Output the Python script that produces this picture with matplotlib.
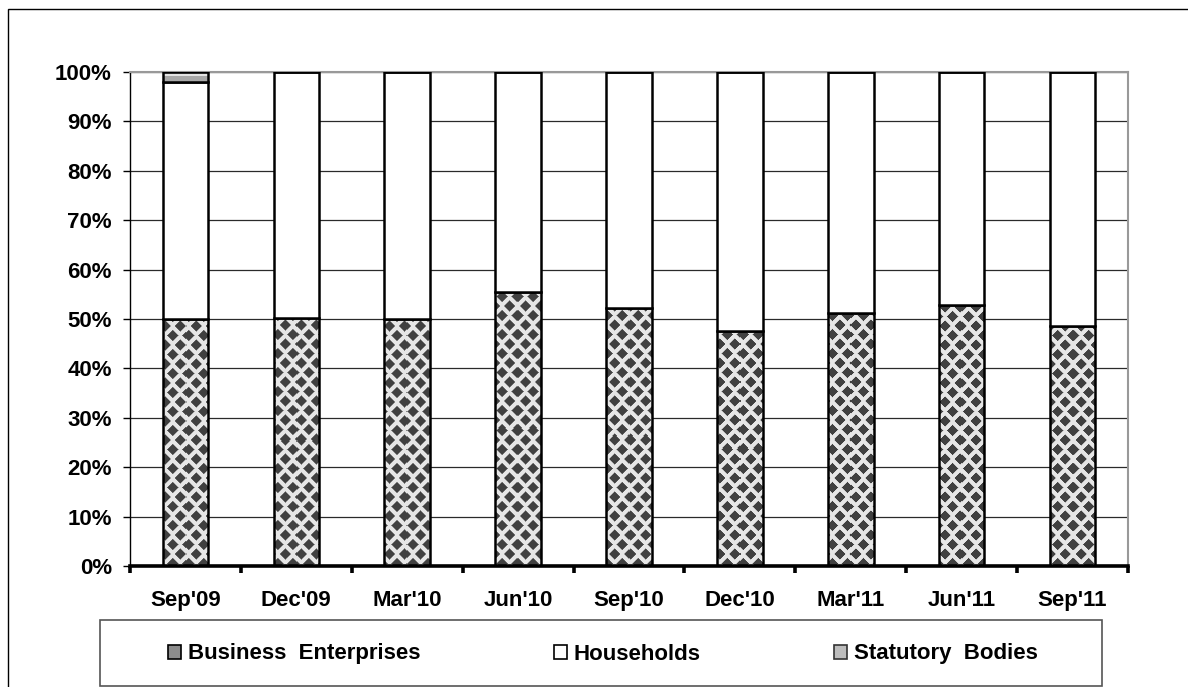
import numpy as np
import matplotlib
matplotlib.use("Agg")
import matplotlib.pyplot as plt
from matplotlib.patches import Rectangle, Patch
from matplotlib.ticker import FuncFormatter, MultipleLocator

plt.rcParams['font.family'] = ['Liberation Sans', 'DejaVu Sans']
plt.rcParams['font.weight'] = 'bold'

quarters = ["Sep'09", "Dec'09", "Mar'10", "Jun'10", "Sep'10",
            "Dec'10", "Mar'11", "Jun'11", "Sep'11"]
business = [50.0, 50.3, 49.9, 55.5, 52.3, 47.6, 51.3, 52.8, 48.5]
statutory = [2.0, 0.0, 0.0, 0.0, 0.0, 0.0, 0.0, 0.0, 0.0]
households = [100 - b - s for b, s in zip(business, statutory)]

W, H = 1188, 687
fig = plt.figure(figsize=(W / 100, H / 100), dpi=100)
ax = fig.add_axes([130 / W, 1 - 566 / H, 998 / W, 494 / H])

x = np.arange(len(quarters))
bw = 0.41
ax.set_xlim(-0.5, len(quarters) - 0.5)
ax.set_ylim(0, 100)


def diamonds(px0, py0, w, h, dx=15, dy=19, half=5.6):
    # dark diamonds on light grey, staggered rows, in screen pixels
    xx = px0 + np.arange(w) + 0.5
    yy = py0 + np.arange(h) + 0.5
    X, Y = np.meshgrid(xx, yy)
    lx = X % dx
    ly = Y % dy
    d_mid = np.abs(lx - dx / 2) + np.abs(ly - dy / 2)
    d_cor = np.minimum(lx, dx - lx) + np.minimum(ly, dy - ly)
    d = np.minimum(d_mid, d_cor)
    return 0.25 + 0.65 * np.clip(d - half + 0.5, 0, 1)


# business enterprises: textured fill
for xi, b in zip(x, business):
    (px0, py0) = ax.transData.transform((xi - bw / 2, 0))
    (px1, py1) = ax.transData.transform((xi + bw / 2, b))
    w = max(int(round(px1 - px0)), 1)
    h = max(int(round(py1 - py0)), 1)
    tex = diamonds(px0, py0, w, h)
    ax.imshow(tex, cmap='gray', vmin=0, vmax=1, origin='lower',
              extent=(xi - bw / 2, xi + bw / 2, 0, b), aspect='auto',
              interpolation='nearest', zorder=2)
ax.bar(x, business, bw, fill=False, edgecolor='black', linewidth=1.8, zorder=3)

ax.bar(x, households, bw, bottom=business, color='white',
       edgecolor='black', linewidth=1.8, zorder=3)

bottoms = [b + h for b, h in zip(business, households)]
ax.bar(x, statutory, bw, bottom=bottoms, color='#a8a8a8', hatch='-',
       edgecolor='white', linewidth=0, zorder=3)
ax.bar(x, statutory, bw, bottom=bottoms, fill=False,
       edgecolor='black', linewidth=1.8, zorder=4)

# grid and frame
ax.yaxis.set_major_locator(MultipleLocator(10))
ax.yaxis.set_major_formatter(FuncFormatter(lambda v, p: f"{v:.0f}%"))
ax.grid(axis='y', color='#2a2a2a', linewidth=0.9, zorder=0)
ax.set_axisbelow(True)
for s in ('top', 'right'):
    ax.spines[s].set_color('#999999')
    ax.spines[s].set_linewidth(1.5)
ax.spines['left'].set_color('black')
ax.spines['left'].set_linewidth(1.0)
ax.spines['bottom'].set_linewidth(2.6)
ax.spines['bottom'].set_capstyle('projecting')

ax.tick_params(axis='y', length=5, width=1.0, pad=8, labelsize=16)
ax.set_xticks(x)
ax.set_xticklabels(quarters)
ax.tick_params(axis='x', length=0, pad=17, labelsize=16)
ax.set_xticks(np.arange(len(quarters) + 1) - 0.5, minor=True)
ax.tick_params(axis='x', which='minor', length=5, width=2.6)
for lab in ax.get_xticklabels() + ax.get_yticklabels():
    lab.set_fontweight('bold')

# outer frame and legend box
fig.patches.append(Rectangle((8 / W, -0.1), 1.2, 1 - 9 / H + 0.1,
                             transform=fig.transFigure, fill=False,
                             edgecolor='black', linewidth=1.0))
fig.patches.append(Rectangle((100 / W, 1 - 686 / H), 1002 / W, 66 / H,
                             transform=fig.transFigure, fill=False,
                             edgecolor='#555555', linewidth=1.2))

handles = [
    Patch(facecolor='#8c8c8c', edgecolor='black', linewidth=1.2),
    Patch(facecolor='white', edgecolor='black', linewidth=1.2),
    Patch(facecolor='#bdbdbd', edgecolor='#333333', linewidth=1.2),
]
labels = ['Business  Enterprises', 'Households', 'Statutory  Bodies']
fig.legend(handles, labels, loc='center', bbox_to_anchor=(603 / W, 1 - 654 / H),
           ncol=3, frameon=False, prop={'size': 16, 'weight': 'bold'},
           handlelength=0.6, handleheight=0.6, handletextpad=0.3,
           columnspacing=6.0)

fig.savefig('out.png', dpi=100)
